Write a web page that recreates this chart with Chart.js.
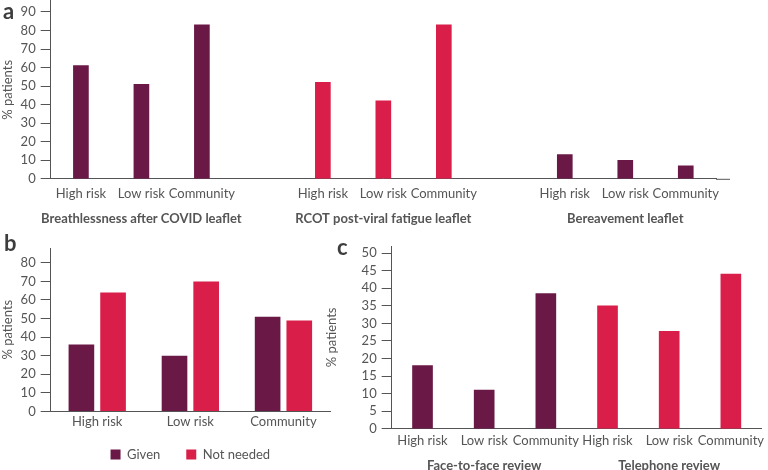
<!DOCTYPE html>
<html>
<head>
<meta charset="utf-8">
<script src="https://cdn.jsdelivr.net/npm/chart.js@4.4.0/dist/chart.umd.min.js"></script>
<style>
body { margin: 0; background: #fff; width: 768px; height: 470px; position: relative; overflow: hidden; font-family: Lato, sans-serif; }
canvas { position: absolute; }
.lbl { position: absolute; font-weight: bold; font-size: 22px; color: #3d3d3d; line-height: 22px; }
</style>
</head>
<body>
<canvas id="chartA" width="768" height="246" style="left:0;top:-12px"></canvas>
<canvas id="chartB" width="345" height="252" style="left:0;top:230px"></canvas>
<canvas id="chartC" width="444" height="250" style="left:324px;top:230px"></canvas>
<div class="lbl" style="left:3px;top:0px">a</div>
<div class="lbl" style="left:4px;top:232px">b</div>
<div class="lbl" style="left:337px;top:236px">c</div>
<script>
// data
const riskCats = ['High risk', 'Low risk', 'Community']
const leaflets = ['Breathlessness after COVID leaflet', 'RCOT post-viral fatigue leaflet', 'Bereavement leaflet']
const breathless = [61, 51, 83]
const rcot = [52, 42, 83]
const bereavement = [13, 10, 7]

const given = [36, 30, 51]
const notNeeded = [64, 70, 49]

const reviews = ['Face-to-face review', 'Telephone review']
const faceToFace = [18, 11, 38.5]
const telephone = [35, 27.7, 44]

const purple = '#6a1846'
const red = '#d91e49'
const grey = '#555'

Chart.defaults.font.family = 'Lato'
Chart.defaults.color = grey
Chart.defaults.animation = false

function yAxis(max, step, gap) {
    return {
        min: 0, max: max,
        ticks: { stepSize: step, includeBounds: false, autoSkip: false, color: grey, font: { size: 13 }, padding: 5 },
        grid: { display: true, drawOnChartArea: false, drawTicks: true, tickLength: 10, color: grey, lineWidth: 1 },
        border: { color: grey },
        title: { display: true, text: '% patients', color: grey, font: { size: 13 }, padding: { top: 0, bottom: gap } }
    }
}
function xAxis(pad) {
    return {
        grid: { display: false, drawTicks: false },
        border: { color: grey },
        ticks: { color: grey, font: { size: 13 }, padding: pad, autoSkip: false, maxRotation: 0 }
    }
}
function titleAxis(labels, pad) {
    return {
        type: 'category', position: 'bottom', labels: labels,
        grid: { display: false, drawTicks: false },
        border: { display: false },
        ticks: { color: grey, font: { size: 13, weight: 'bold' }, padding: pad, autoSkip: false, maxRotation: 0 }
    }
}

// panel a: build slots with an empty gap between leaflets
let labelsA = [], valuesA = [], colorsA = [], titlesA = []
let setsA = [breathless, rcot, bereavement]
let setColors = [purple, red, purple]
setsA.forEach((s, g) => {
    if (g > 0) {
        labelsA.push(''); valuesA.push(null); colorsA.push(purple); titlesA.push('')
    }
    riskCats.forEach((c, i) => {
        labelsA.push(c)
        valuesA.push(s[i])
        colorsA.push(setColors[g])
        titlesA.push(i == 1 ? leaflets[g] : '')
    })
})

// stretch the base line a bit past the last slot
const axisTail = {
    id: 'axisTail',
    afterDraw(chart, args, opts) {
        let ca = chart.chartArea, ctx = chart.ctx
        ctx.save()
        ctx.strokeStyle = grey
        ctx.lineWidth = 1
        ctx.beginPath()
        ctx.moveTo(ca.right, ca.bottom + 0.5)
        ctx.lineTo(ca.right + opts.length, ca.bottom + 0.5)
        ctx.stroke()
        ctx.restore()
    }
}

new Chart('chartA', {
    type: 'bar',
    data: {
        labels: labelsA,
        datasets: [{ data: valuesA, backgroundColor: colorsA, barThickness: 15 }]
    },
    options: {
        responsive: false,
        layout: { padding: { top: 0, right: 52, bottom: 4, left: 0 } },
        plugins: { legend: { display: false }, tooltip: { enabled: false }, axisTail: { length: 14 } },
        scales: {
            y: yAxis(96, 10, 0),
            x: xAxis(7),
            x2: titleAxis(titlesA, 3)
        }
    },
    plugins: [axisTail]
})

// panel b: legend centred under the plot area and pulled up a little
const moveLegend = {
    id: 'moveLegend',
    afterLayout(chart, args, opts) {
        let lg = chart.legend, ca = chart.chartArea
        let shift = (ca.left + ca.right) / 2 - (lg.left + lg.right) / 2
        lg.left += shift
        lg.right += shift
        lg.top -= opts.up
        lg.bottom -= opts.up
    }
}

new Chart('chartB', {
    type: 'bar',
    data: {
        labels: riskCats,
        datasets: [
            { label: 'Given', data: given, backgroundColor: purple, barPercentage: 0.81, categoryPercentage: 0.68 },
            { label: 'Not needed', data: notNeeded, backgroundColor: red, barPercentage: 0.81, categoryPercentage: 0.68 }
        ]
    },
    options: {
        responsive: false,
        layout: { padding: { top: 18, right: 15, bottom: 0, left: 0 } },
        plugins: {
            tooltip: { enabled: false },
            moveLegend: { up: 11 },
            legend: {
                position: 'bottom',
                labels: { boxWidth: 10, boxHeight: 10, padding: 26, color: grey, font: { size: 13 } }
            }
        },
        scales: {
            y: yAxis(88, 10, 0),
            x: xAxis(3)
        }
    },
    plugins: [moveLegend]
})

// panel c
let labelsC = [], valuesC = [], colorsC = [], titlesC = []
;[faceToFace, telephone].forEach((s, g) => {
    riskCats.forEach((c, i) => {
        labelsC.push(c)
        valuesC.push(s[i])
        colorsC.push(g == 0 ? purple : red)
        titlesC.push(i == 1 ? reviews[g] : '')
    })
})

new Chart('chartC', {
    type: 'bar',
    data: {
        labels: labelsC,
        datasets: [{ data: valuesC, backgroundColor: colorsC, barThickness: 20 }]
    },
    options: {
        responsive: false,
        layout: { padding: { top: 16, right: 0, bottom: 0, left: 0 } },
        plugins: { legend: { display: false }, tooltip: { enabled: false } },
        scales: {
            y: yAxis(52, 5, 17),
            x: xAxis(4),
            x2: titleAxis(titlesC, 6)
        }
    }
})
</script>
</body>
</html>
